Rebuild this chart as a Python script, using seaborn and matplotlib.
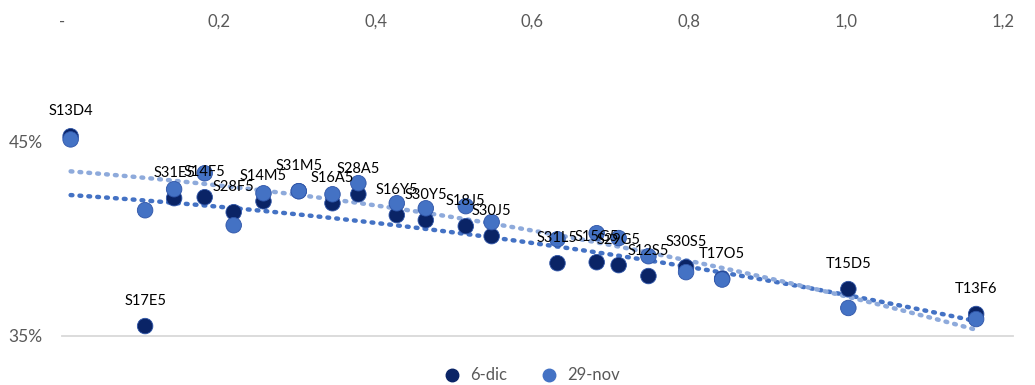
import numpy as np
import pandas as pd
import matplotlib
matplotlib.use("Agg")
import matplotlib.pyplot as plt
from matplotlib.ticker import FuncFormatter, FixedLocator
from matplotlib.lines import Line2D
import seaborn as sns

# Bond series: duration (x) against yield on two dates
labels = ["S13D4", "S17E5", "S31E5", "S14F5", "S28F5", "S14M5", "S31M5",
          "S16A5", "S28A5", "S16Y5", "S30Y5", "S18J5", "S30J5", "S31L5",
          "S15G5", "S29G5", "S12S5", "S30S5", "T17O5", "T15D5", "T13F6"]
duration = [0.011, 0.106, 0.143, 0.182, 0.219, 0.257, 0.302,
            0.345, 0.378, 0.427, 0.464, 0.515, 0.548, 0.632,
            0.682, 0.710, 0.748, 0.796, 0.842, 1.003, 1.166]
yield_6dic = [0.4526, 0.3551, 0.4208, 0.4213, 0.4136, 0.4192, 0.4244,
              0.4182, 0.4228, 0.4121, 0.4095, 0.4064, 0.4013, 0.3874,
              0.3879, 0.3864, 0.3808, 0.3854, 0.3795, 0.3741, 0.3613]
yield_29nov = [0.4510, 0.4146, 0.4254, 0.4336, 0.4069, 0.4233, 0.4244,
               0.4228, 0.4285, 0.4182, 0.4156, 0.4167, 0.4085, 0.3997,
               0.4028, 0.4003, 0.3910, 0.3828, 0.3790, 0.3644, 0.3587]
series_names = ["6-dic", "29-nov"]

dark = "#0a2466"
light = "#4472c4"
trend_dark = "#4472c4"
trend_light = "#8eaadb"
grey_text = "#595959"

df = pd.DataFrame({
    "bono": labels * 2,
    "duration": duration * 2,
    "tir": yield_6dic + yield_29nov,
    "fecha": [series_names[0]] * len(labels) + [series_names[1]] * len(labels),
})

sns.set_theme(style="white")
plt.rcParams["font.family"] = ["Lato", "DejaVu Sans"]

fig = plt.figure(figsize=(10.35, 3.85), dpi=100)
ax = fig.add_axes([62 / 1035, 1 - 336 / 385, (1013 - 62) / 1035, (336 - 44) / 385])

# quadratic trend curve for each date
for name, col in [(series_names[0], trend_dark), (series_names[1], trend_light)]:
    sub = df[df["fecha"] == name]
    sns.regplot(data=sub, x="duration", y="tir", ax=ax, scatter=False, ci=None,
                truncate=True, order=2,
                line_kws=dict(color=col, lw=3.2, linestyle=(0, (0.4, 1.6)),
                              dash_capstyle="round", zorder=2))

sns.scatterplot(data=df, x="duration", y="tir", hue="fecha",
                palette={series_names[0]: dark, series_names[1]: light},
                s=125, edgecolor="#2f55a8", linewidth=0.6, ax=ax, zorder=3,
                legend=False)

for lab, xv, yv in zip(labels, duration, yield_6dic):
    ax.annotate(lab, (xv, yv), xytext=(0, 18), textcoords="offset points",
                ha="center", va="center", fontsize=10.5, color="black", zorder=5)

ax.set_xlim(0, 1.213)
ax.set_ylim(0.35, 0.50)
ax.xaxis.tick_top()
ax.xaxis.set_major_locator(FixedLocator([0, 0.2, 0.4, 0.6, 0.8, 1.0, 1.2]))
ax.xaxis.set_major_formatter(FuncFormatter(
    lambda v, p: "-" if abs(v) < 1e-9 else f"{v:.1f}".replace(".", ",")))
ax.yaxis.set_major_locator(FixedLocator([0.35, 0.45]))
ax.yaxis.set_major_formatter(FuncFormatter(lambda v, p: f"{v * 100:.0f}%"))
ax.tick_params(axis="x", top=False, length=0, pad=10, labelsize=12,
               labelcolor=grey_text)
ax.tick_params(axis="y", left=False, length=0, pad=14, labelsize=12.5,
               labelcolor=grey_text)
ax.set_xlabel("")
ax.set_ylabel("")
for side in ["top", "left", "right"]:
    ax.spines[side].set_visible(False)
ax.spines["bottom"].set_color("#d9d9d9")
ax.spines["bottom"].set_linewidth(1.3)

handles = [Line2D([], [], marker="o", linestyle="", markersize=9,
                  markerfacecolor=c, markeredgecolor=c)
           for c in (dark, light)]
leg = ax.legend(handles, series_names, loc="center", bbox_to_anchor=(0.49, -0.135),
                ncol=2, frameon=False, fontsize=12, handletextpad=0.1,
                columnspacing=1.5)
for t in leg.get_texts():
    t.set_color(grey_text)

fig.savefig("out.png", dpi=100)
